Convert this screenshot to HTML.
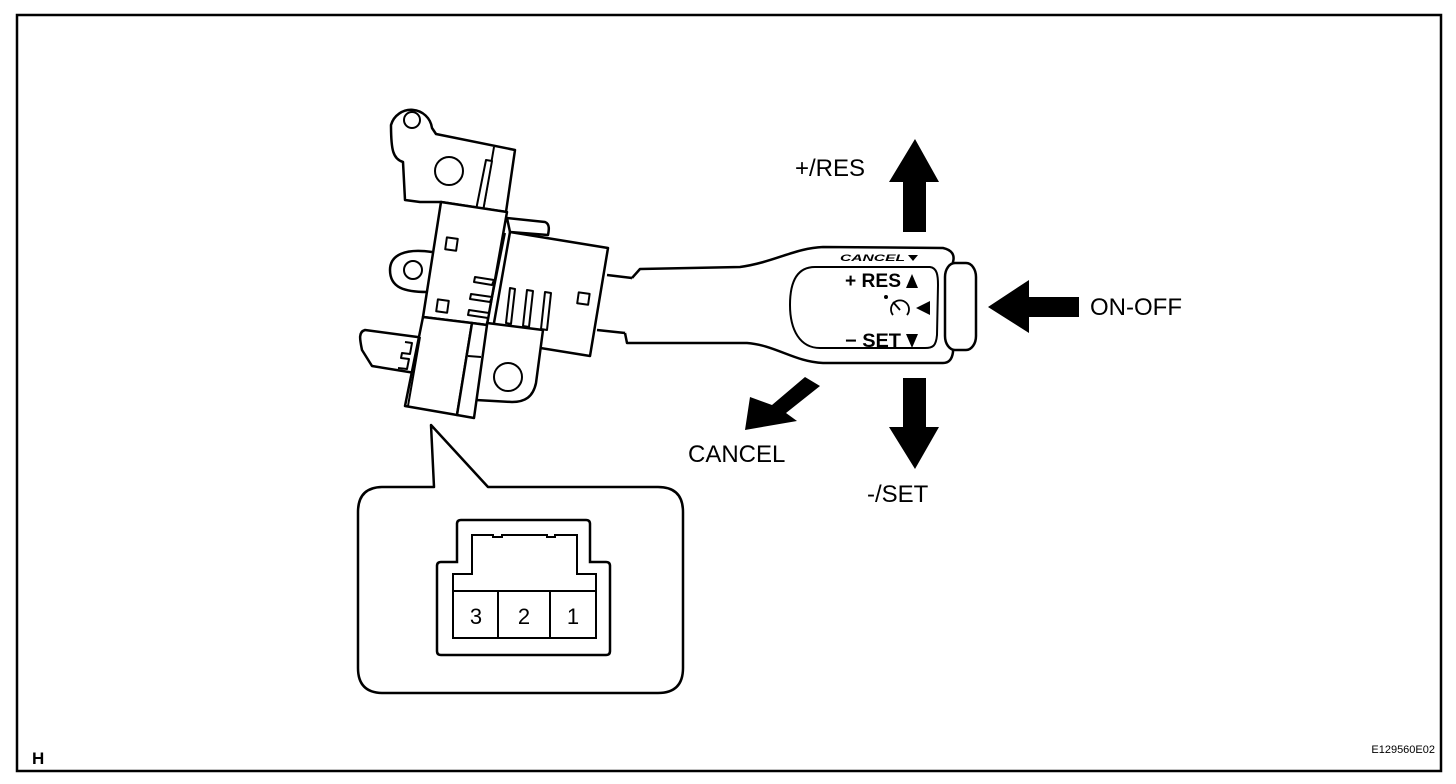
<!DOCTYPE html>
<html><head><style>
html,body{margin:0;padding:0;background:#fff;}
svg{display:block;}
text{font-family:"Liberation Sans",sans-serif;fill:#000;}
</style></head><body>
<svg width="1456" height="784" viewBox="0 0 1456 784" xmlns="http://www.w3.org/2000/svg">
<rect x="17" y="15" width="1424" height="756" fill="#fff" stroke="#000" stroke-width="2.5"/>
<g fill="#fff" stroke="#000" stroke-width="2.5" stroke-linejoin="round">
<!-- top bracket -->
<path d="M405,200 L403,162 C393,159 391,150 391,125 A21,21 0 0 1 432,128 L436,134 L515,150 L506,212 L441,202 L420,202 Z"/>
<circle cx="412" cy="120" r="8" stroke-width="2"/>
<circle cx="449" cy="171" r="14" stroke-width="2"/>
<line x1="494" y1="147" x2="483" y2="211" stroke-width="2"/>
<path d="M486,160 L492,161 L483,211 L476,210 Z" stroke-width="2"/>
<!-- left lobe -->
<path d="M432,252 C405,248 390,255 390,270 C390,288 405,292 427,292" />
<circle cx="413" cy="270" r="9" stroke-width="2"/>
<!-- left tab -->
<path d="M425,338 L365,330 C358,332 360,340 362,350 L372,366 L415,373" />
<path d="M405,342 L412,343 L410,354 L402,353 L401,358 L409,359 L407,369 L398,368" stroke-width="2" fill="none"/>
<!-- connector block between -->
<path d="M507,218 L545,222 C550,224 549,230 548,235 L510,232 Z"/>
<!-- right block -->
<path d="M510,232 L608,248 L590,356 L491,340 Z"/>
<!-- middle plate -->
<path d="M441,202 L507,212 L487,325 L423,317 Z"/>
<!-- bottom right bracket -->
<path d="M487,323 L543,330 L536,383 C533,397 525,402 512,402 L476,400 Z"/>
<circle cx="508" cy="377" r="14" stroke-width="2"/>
<!-- bottom block -->
<path d="M423,317 L472,323 L457,415 L405,406 Z"/>
<path d="M472,323 L487,325 L474,418 L457,415 Z"/>
<line x1="420" y1="337" x2="408" y2="406" stroke-width="2"/>
<line x1="468" y1="356" x2="481" y2="357" stroke-width="2"/>
<line x1="505" y1="233" x2="487" y2="323" stroke-width="2"/>
<!-- slots -->
<g stroke-width="2">
<path d="M475,277 L494,280 L492,285 L474,282 Z"/>
<path d="M471,294 L492,297 L490,302 L470,299 Z"/>
<path d="M469,310 L489,313 L488,318 L468,315 Z"/>
<path d="M510,288 L515,289 L511,324 L506,323 Z"/>
<path d="M527,290 L533,291 L529,327 L523,326 Z"/>
<path d="M545,292 L551,293 L547,330 L541,329 Z"/>
<rect x="446" y="238" width="11" height="12" transform="rotate(8 451 244)"/>
<rect x="437" y="300" width="11" height="12" transform="rotate(8 442 306)"/>
<rect x="578" y="293" width="11" height="11" transform="rotate(8 583 298)"/>
</g>
<!-- stem -->
<path d="M607,275 L632,278 C638,284 638,292 632,296" fill="none"/>
<path d="M632,317 C638,322 636,330 625,333 L597,330" fill="none"/>
<!-- lever -->
<path d="M632,278 L640,269 L740,267 C775,262 795,248 823,247 L943,248 C952,250 955,255 953,262 L953,352 C952,360 948,363 943,363 L823,363 C795,362 775,345 747,343 L627,343 L625,333"/>
<path d="M815,267 L930,267 C937,268 938,275 938,285 L937,335 C936,346 933,348 925,348 L820,348 C800,348 790,330 790,305 C790,280 798,267 815,267 Z" stroke-width="2"/>
<rect x="945" y="263" width="31" height="87" rx="10" ry="14"/>
</g>
<!-- lever labels -->
<text x="840" y="261" font-size="9" font-style="italic" font-weight="bold" textLength="65" lengthAdjust="spacingAndGlyphs">CANCEL</text>
<path d="M908,255 L918,255 L913,261 Z" fill="#000"/>
<text x="845" y="287" font-size="19" font-weight="bold" textLength="56" lengthAdjust="spacingAndGlyphs">+ RES</text>
<path d="M906,288 L918,288 L912,274 Z" fill="#000"/>
<text x="845" y="347" font-size="19" font-weight="bold" textLength="56" lengthAdjust="spacingAndGlyphs">− SET</text>
<path d="M906,334 L918,334 L912,348 Z" fill="#000"/>
<path d="M916,308 L930,301 L930,315 Z" fill="#000"/>
<g fill="none" stroke="#000" stroke-width="1.8">
<path d="M893,315 A9,9 0 1 1 907,315"/>
<line x1="900" y1="310" x2="893" y2="302"/>
</g>
<circle cx="886" cy="297" r="2" fill="#000"/>
<!-- arrows -->
<g fill="#000">
<path d="M915,139 L939,182 L926,182 L926,232 L903,232 L903,182 L889,182 Z"/>
<path d="M915,469 L939,427 L926,427 L926,378 L903,378 L903,427 L889,427 Z"/>
<path d="M988,307 L1029,280 L1029,297 L1079,297 L1079,317 L1029,317 L1029,333 Z"/>
<path d="M745,430 L750,397 L772,405 L805,377 L820,386 L786,413 L797,421 Z"/>
</g>
<text x="795" y="176" font-size="24">+/RES</text>
<text x="1090" y="315" font-size="24">ON-OFF</text>
<text x="688" y="462" font-size="24">CANCEL</text>
<text x="867" y="502" font-size="24">-/SET</text>
<!-- callout -->
<path d="M434,487 L431,425 L488,487 L658,487 Q683,487 683,512 L683,668 Q683,693 658,693 L383,693 Q358,693 358,668 L358,512 Q358,487 383,487 Z" fill="#fff" stroke="#000" stroke-width="2.5" stroke-linejoin="round"/>
<path d="M457,562 L457,524 Q457,520 461,520 L586,520 Q590,520 590,524 L590,562 L606,562 Q610,562 610,566 L610,651 Q610,655 606,655 L441,655 Q437,655 437,651 L437,566 Q437,562 441,562 Z" fill="#fff" stroke="#000" stroke-width="2.5"/>
<path d="M472,574 L472,535 L493,535 L493,537 L502,537 L502,535 L547,535 L547,537 L555,537 L555,535 L577,535 L577,574 L596,574 L596,638 L453,638 L453,574 Z" fill="none" stroke="#000" stroke-width="2"/>
<line x1="453" y1="591" x2="596" y2="591" stroke="#000" stroke-width="2"/>
<line x1="498" y1="591" x2="498" y2="638" stroke="#000" stroke-width="2"/>
<line x1="550" y1="591" x2="550" y2="638" stroke="#000" stroke-width="2"/>
<text x="476" y="624" font-size="22" text-anchor="middle">3</text>
<text x="524" y="624" font-size="22" text-anchor="middle">2</text>
<text x="573" y="624" font-size="22" text-anchor="middle">1</text>
<text x="32" y="764" font-size="17" font-weight="bold">H</text>
<text x="1435" y="753" font-size="11" text-anchor="end">E129560E02</text>
</svg>
</body></html>
